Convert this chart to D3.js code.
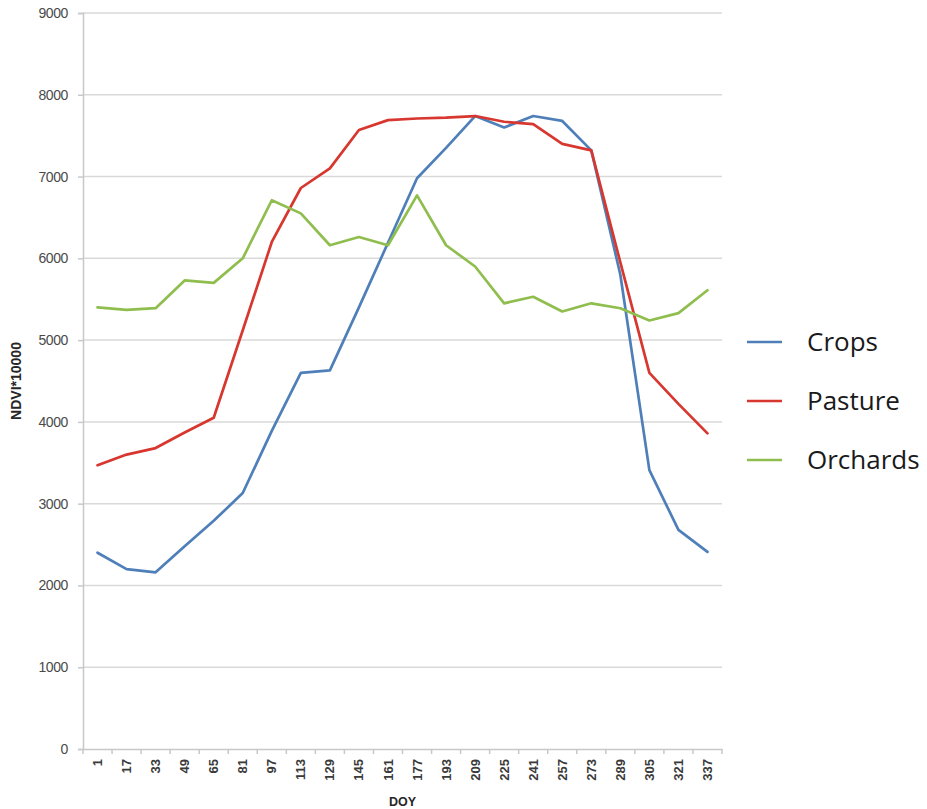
<!DOCTYPE html>
<html>
<head>
<meta charset="utf-8">
<script src="https://cdn.jsdelivr.net/npm/d3@7"></script>
<style>
  html, body { margin: 0; padding: 0; background: #ffffff; }
  svg { display: block; }
</style>
</head>
<body>
<svg id="chart" width="927" height="809"></svg>
<script>
// Day-of-year composites (16-day steps)
const doy = [1, 17, 33, 49, 65, 81, 97, 113, 129, 145, 161, 177, 193, 209, 225, 241, 257, 273, 289, 305, 321, 337];

// Mean NDVI*10000 per land-cover class
const crops    = [2400, 2200, 2160, 2480, 2790, 3130, 3890, 4600, 4630, 5400, 6190, 6980, 7350, 7740, 7600, 7740, 7680, 7320, 5800, 3410, 2680, 2410];
const pasture  = [3470, 3600, 3680, 3870, 4050, 5120, 6200, 6860, 7100, 7570, 7690, 7710, 7720, 7740, 7670, 7640, 7400, 7320, 5950, 4600, 4220, 3860];
const orchards = [5400, 5370, 5390, 5730, 5700, 6000, 6710, 6550, 6160, 6260, 6160, 6770, 6160, 5900, 5450, 5530, 5350, 5450, 5390, 5240, 5330, 5610];

const seriesNames = ["Crops", "Pasture", "Orchards"];
const seriesColors = ["#4f7fb9", "#d7372f", "#8fbe4f"];
const yTicks = [0, 1000, 2000, 3000, 4000, 5000, 6000, 7000, 8000, 9000];

const series = [crops, pasture, orchards].map((vals, i) => ({
  name: seriesNames[i],
  color: seriesColors[i],
  values: vals.map((v, j) => ({ doy: doy[j], v }))
}));

const svg = d3.select("#chart");
const plot = { left: 83, right: 722, top: 13, bottom: 749 };

const x = d3.scaleBand().domain(doy).range([plot.left, plot.right]).padding(0);
const y = d3.scaleLinear().domain([0, 9000]).range([plot.bottom, plot.top]);

// Horizontal gridlines
svg.append("g")
  .selectAll("line")
  .data(yTicks.filter(d => d > 0))
  .join("line")
  .attr("x1", plot.left).attr("x2", plot.right)
  .attr("y1", d => y(d)).attr("y2", d => y(d))
  .attr("stroke", "#d9d9d9").attr("stroke-width", 1.5);

// Y axis
const yAxis = svg.append("g")
  .attr("transform", `translate(${plot.left},0)`)
  .call(d3.axisLeft(y).tickValues(yTicks).tickSize(5).tickPadding(10).tickFormat(d3.format("d")));
yAxis.select(".domain").attr("stroke", "#c8c8c8").attr("stroke-width", 1.5);
yAxis.selectAll(".tick line").attr("stroke", "#c8c8c8").attr("stroke-width", 1.5);
yAxis.selectAll(".tick text")
  .attr("font-family", "'Liberation Sans', Arial, sans-serif")
  .attr("font-size", 14).attr("fill", "#4a4a4a")
  .attr("letter-spacing", -0.4);

// X axis (category boundaries carry the tick marks)
const xAxis = svg.append("g")
  .attr("transform", `translate(0,${plot.bottom})`)
  .call(d3.axisBottom(x).tickSize(0).tickPadding(0));
xAxis.select(".domain").attr("stroke", "#c8c8c8").attr("stroke-width", 1.5);
xAxis.selectAll(".tick text")
  .attr("font-family", "'Liberation Sans', Arial, sans-serif")
  .attr("font-size", 13).attr("font-weight", "bold").attr("fill", "#3a3a3a")
  .attr("transform", "rotate(-90)")
  .attr("text-anchor", "end")
  .attr("x", -10).attr("y", 0).attr("dy", "0.35em");
xAxis.append("g")
  .selectAll("line")
  .data(doy.concat(["end"]))
  .join("line")
  .attr("x1", (d, i) => plot.left + i * x.step())
  .attr("x2", (d, i) => plot.left + i * x.step())
  .attr("y1", 0).attr("y2", 5)
  .attr("stroke", "#c8c8c8").attr("stroke-width", 1.5);

// Axis titles
svg.append("text")
  .attr("transform", `translate(21,${(plot.top + plot.bottom) / 2}) rotate(-90)`)
  .attr("text-anchor", "middle")
  .attr("font-family", "'Liberation Sans', Arial, sans-serif")
  .attr("font-size", 14).attr("font-weight", "bold").attr("fill", "#262626")
  .text("NDVI*10000");

svg.append("text")
  .attr("x", (plot.left + plot.right) / 2).attr("y", 806)
  .attr("text-anchor", "middle")
  .attr("font-family", "'Liberation Sans', Arial, sans-serif")
  .attr("font-size", 12.5).attr("font-weight", "bold").attr("fill", "#262626")
  .text("DOY");

// Series lines
const line = d3.line()
  .x(d => x(d.doy) + x.bandwidth() / 2)
  .y(d => y(d.v));

svg.append("g")
  .selectAll("path")
  .data(series)
  .join("path")
  .attr("d", d => line(d.values))
  .attr("fill", "none")
  .attr("stroke", d => d.color)
  .attr("stroke-width", 2.7)
  .attr("stroke-linejoin", "round")
  .attr("stroke-linecap", "round");

// Legend
const legend = svg.append("g").attr("transform", "translate(747,342)");
const item = legend.selectAll("g")
  .data(series)
  .join("g")
  .attr("transform", (d, i) => `translate(0,${i * 59})`);
item.append("line")
  .attr("x1", 0).attr("x2", 35).attr("y1", 0).attr("y2", 0)
  .attr("stroke", d => d.color).attr("stroke-width", 2.7);
item.append("text")
  .attr("x", 60).attr("y", 0).attr("dy", "0.35em")
  .attr("font-family", "'Open Sans', sans-serif")
  .attr("font-size", 26).attr("fill", "#1a1a1a")
  .text(d => d.name);
</script>
</body>
</html>
